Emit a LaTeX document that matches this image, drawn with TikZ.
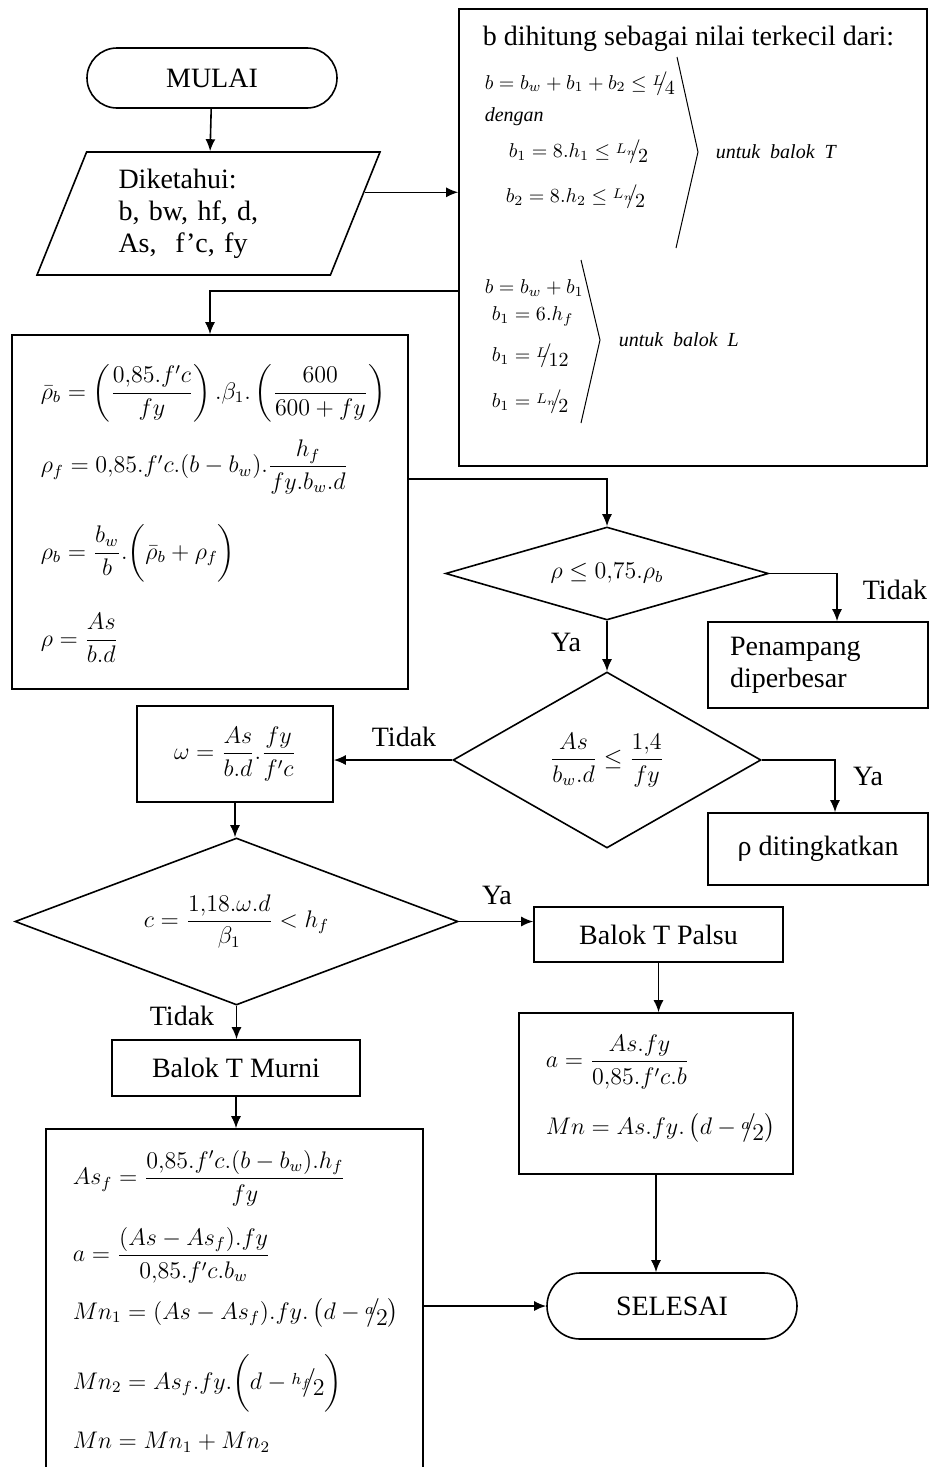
\RequirePackage{fix-cm}
\documentclass[tikz,border=0pt]{standalone}
\usepackage{amssymb,amsmath}
\usepackage{fontspec}
\setmainfont{Liberation Serif}
\usetikzlibrary{shapes.geometric,shapes.misc,arrows.meta,calc}
\newcommand{\slfrac}[2]{\raisebox{0.4ex}{$\scriptstyle #1$}\!\!\big/\!\raisebox{-0.6ex}{$#2$}}
\newcommand{\rumus}{\fontsize{12}{15}\selectfont}
\newcommand{\kecil}{\fontsize{10}{12}\selectfont}

\begin{document}
\begin{tikzpicture}[x=0.5pt,y=-0.5pt,line width=0.8pt,
        every node/.style={font=\fontsize{14}{16}\selectfont},
        flow/.style={-{Latex[length=6pt,width=5pt]}},
        proses/.style={rectangle,draw,inner sep=0pt},
        mulaiselesai/.style={rounded rectangle,draw,minimum width=125pt,inner sep=0pt},
        masukan/.style={trapezium,trapezium left angle=61,trapezium right angle=119,trapezium stretches body,draw,inner sep=0pt},
        pilihan/.style={diamond,draw,inner sep=0pt,font=\rumus},
        rms/.style={anchor=west,inner sep=0pt,font=\rumus},
        rmskecil/.style={anchor=west,inner sep=0pt,font=\kecil}]
    \useasboundingbox (0,0) rectangle (933,1467);
    \clip (0,0) rectangle (933,1467);

    \node[mulaiselesai,minimum height=30pt] (mulai) at (212,78) {MULAI};
    \node[masukan,minimum width=171.5pt,minimum height=61.5pt,text width=90pt,align=left] (input) at (208.5,213.5)
        {Diketahui:\\ b, bw, hf, d,\\ As,\ \ f'c, fy};
    \node[proses,minimum width=234pt,minimum height=228.5pt] (lebar) at (693,237.5) {};
    \node[proses,minimum width=198pt,minimum height=177pt] (rasio) at (210,512) {};
    \node[pilihan,aspect=3.47,minimum width=161.5pt,minimum height=46.5pt] (cekrho) at (607,573.5) {$\rho \le 0{,}75.\rho_b$};
    \node[proses,minimum width=110pt,minimum height=43pt,text width=88pt,align=left] (besar) at (818,665) {Penampang\\diperbesar};
    \node[pilihan,aspect=1.75,minimum width=154pt,minimum height=88pt] (cekmin) at (607,760) {$\dfrac{As}{b_w.d} \le \dfrac{1{,}4}{fy}$};
    \node[proses,minimum width=110pt,minimum height=36pt] (naik) at (818,849) {ρ ditingkatkan};
    \node[proses,minimum width=98pt,minimum height=48pt,font=\rumus] (omega) at (235,754) {$\omega = \dfrac{As}{b.d}.\dfrac{fy}{f'c}$};
    \node[pilihan,aspect=2.65,minimum width=221.5pt,minimum height=83.5pt] (cekc) at (236.5,921.5) {$c = \dfrac{1{,}18.\omega.d}{\beta_1} < h_f$};
    \node[proses,minimum width=124.5pt,minimum height=27.5pt] (palsu) at (658.5,934.5) {Balok T Palsu};
    \node[proses,minimum width=137pt,minimum height=80.5pt] (mnpalsu) at (656,1093.5) {};
    \node[mulaiselesai,minimum height=33pt] (selesai) at (672,1306) {SELESAI};
    \node[proses,minimum width=124pt,minimum height=28pt] (murni) at (236,1068) {Balok T Murni};
    \node[proses,minimum width=188.5pt,minimum height=175.5pt] (mnmurni) at (234.5,1304.5) {};

    \node[anchor=base west,inner sep=0pt] (judul) at (482,46) {b dihitung sebagai nilai terkecil dari:};
    \node[rmskecil] (bT) at (484,84) {$b = b_w + b_1 + b_2 \le \slfrac{L}{4}$};
    \node[rmskecil] (dengan) at (484,117) {\textit{dengan}};
    \node[rmskecil] (bsatu) at (508,152) {$b_1 = 8.h_1 \le \slfrac{L_n}{2}$};
    \node[rmskecil] (bdua) at (505,197) {$b_2 = 8.h_2 \le \slfrac{L_n}{2}$};
    \node[rmskecil] (untukT) at (715,152) {\textit{untuk~~balok~~T}};
    \node[rmskecil] (bL) at (484,288) {$b = b_w + b_1$};
    \node[rmskecil] (bLa) at (491,316) {$b_1 = 6.h_f$};
    \node[rmskecil] (bLb) at (491,356) {$b_1 = \slfrac{L}{12}$};
    \node[rmskecil] (bLc) at (491,402) {$b_1 = \slfrac{L_n}{2}$};
    \node[rmskecil] (untukL) at (618,340) {\textit{untuk~~balok~~L}};
    \draw[line width=0.5pt] (677,57) -- (698,152) -- (676,248);
    \draw[line width=0.5pt] (581,260) -- (600,340) -- (581,423);

    \node[rms] (rhobbar) at (40,393) {$\bar{\rho}_b = \left(\dfrac{0{,}85.f'c}{fy}\right).\beta_1.\left(\dfrac{600}{600+fy}\right)$};
    \node[rms] (rhof) at (40,467) {$\rho_f = 0{,}85.f'c.(b-b_w).\dfrac{h_f}{fy.b_w.d}$};
    \node[rms] (rhob) at (40,553) {$\rho_b = \dfrac{b_w}{b}.\biggl(\bar{\rho}_b+\rho_f\biggr)$};
    \node[rms] (rho) at (40,638) {$\rho = \dfrac{As}{b.d}$};

    \node[rms] (apalsu) at (545,1062) {$a = \dfrac{As.fy}{0{,}85.f'c.b}$};
    \node[rms] (mnp) at (545,1128) {$Mn = As.fy.\left(d-\slfrac{a}{2}\right)$};

    \node[rms] (asf) at (72,1178) {$As_f = \dfrac{0{,}85.f'c.(b-b_w).h_f}{fy}$};
    \node[rms] (amurni) at (72,1255) {$a = \dfrac{(As-As_f).fy}{0{,}85.f'c.b_w}$};
    \node[rms] (mn1) at (72,1313) {$Mn_1 = (As-As_f).fy.\left(d-\slfrac{a}{2}\right)$};
    \node[rms] (mn2) at (72,1383) {$Mn_2 = As_f.fy.\biggl(d-\slfrac{h_f}{2}\biggr)$};
    \node[rms] (mn) at (72,1442) {$Mn = Mn_1 + Mn_2$};

    \foreach \nm/\lx/\ly/\lt in {a/895/590/Tidak,b/566/642/Ya,c/868/776/Ya,d/404/737/Tidak,e/497/895/Ya,f/182/1016/Tidak}
        \node (label\nm) at (\lx,\ly) {\lt};

    \coordinate (keluar) at ($(input.top right corner)!0.33!(input.bottom right corner)$);
    \coordinate (cabang) at (459,291);
    \coordinate (rasiokanan) at (408,479);
    \draw[flow] (mulai) -- (input);
    \draw[flow] (keluar) -- (keluar -| lebar.west);
    \draw[flow] (cabang) -| (rasio.north);
    \draw[flow] (rasiokanan) -| (cekrho.north);
    \draw[flow] (cekrho.east) -| ([xshift=9.5pt]besar.north);
    \draw[flow] (cekrho.south) -- (cekmin.north);
    \draw[flow] (cekmin.east) -| ([xshift=8.5pt]naik.north);
    \draw[flow] (cekmin.west) -- (cekmin.west -| omega.east);
    \draw[flow] (omega.south) -- (omega.south |- cekc.north);
    \draw[flow] (cekc.east) -- (cekc.east -| palsu.west);
    \draw[flow] (cekc.south) -- (cekc.south |- murni.north);
    \draw[flow] (murni.south) -- (murni.south |- mnmurni.north);
    \draw[flow] (palsu.south) -- (palsu.south |- mnpalsu.north);
    \draw[flow] (mnpalsu.south) -- (mnpalsu.south |- selesai.north);
    \draw[flow] (mnmurni.east |- selesai.west) -- (selesai.west);
\end{tikzpicture}
\end{document}
